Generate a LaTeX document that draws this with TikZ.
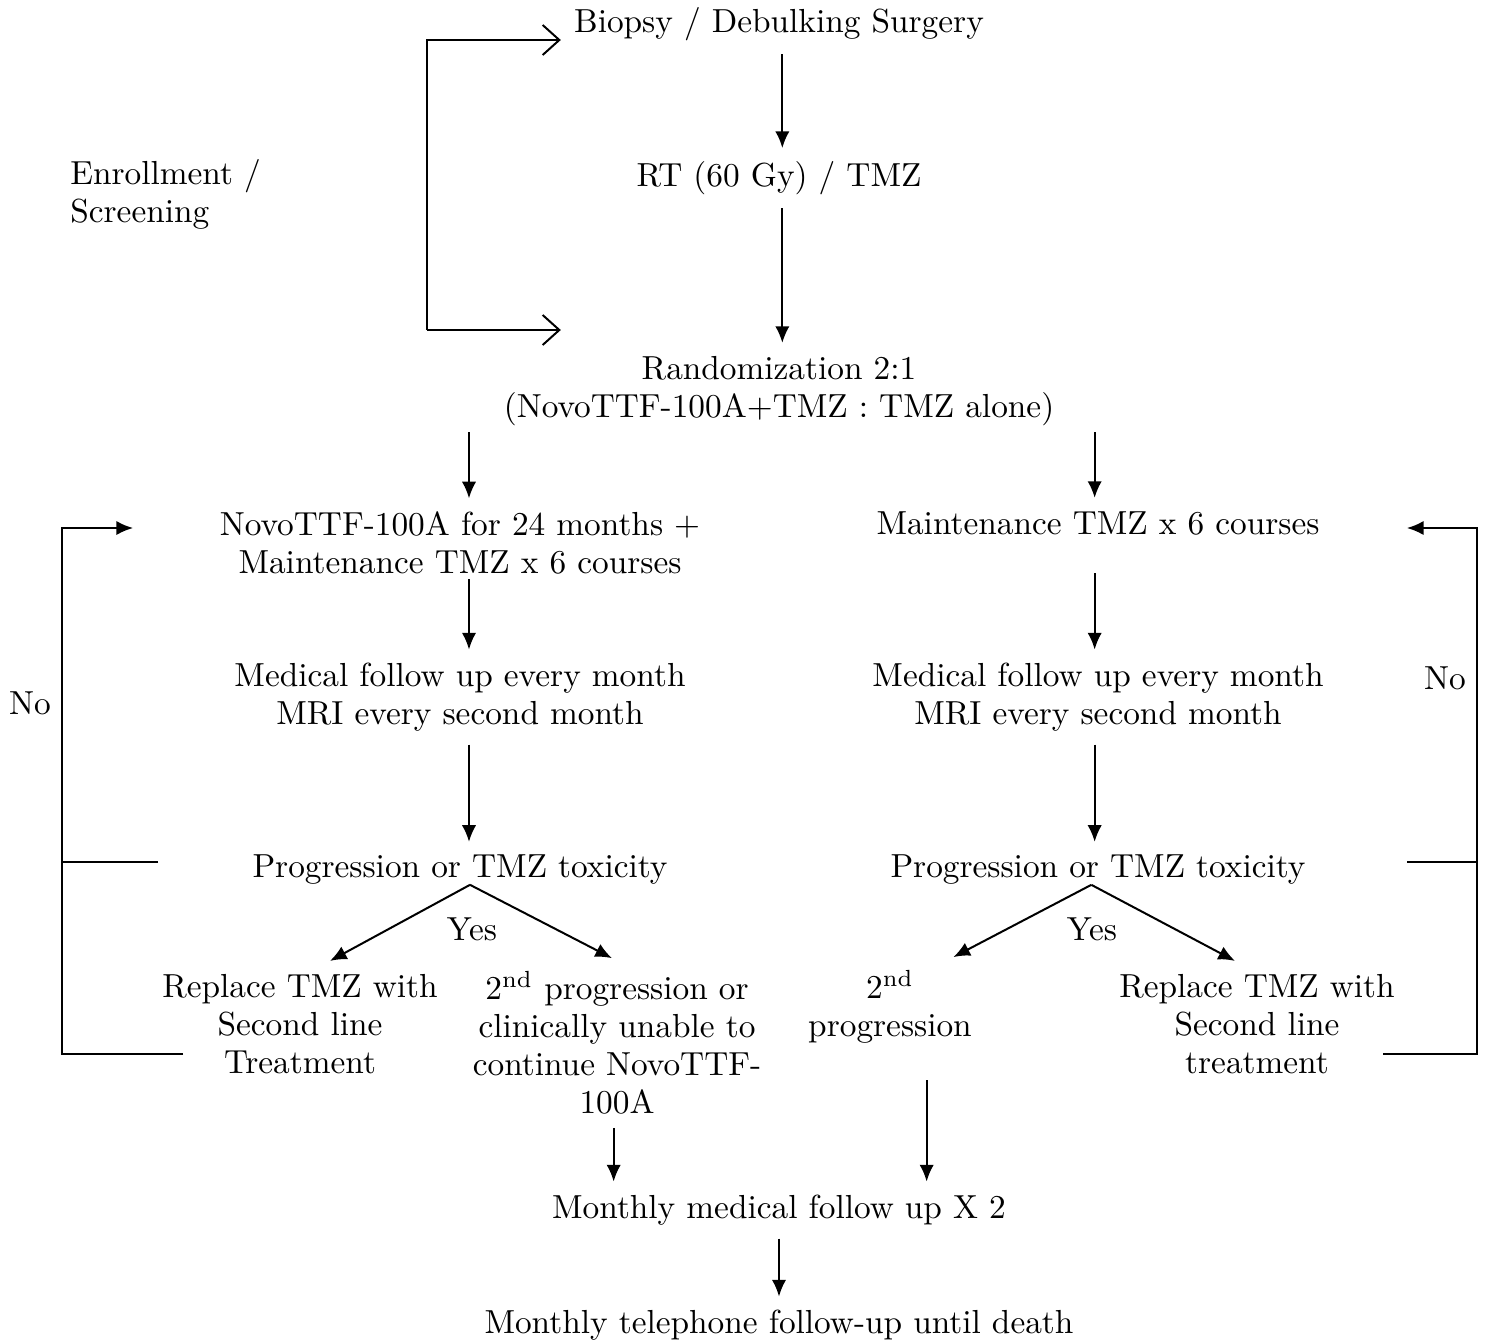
\documentclass[tikz,border=0pt]{standalone}
\usepackage{tikz}
\usetikzlibrary{arrows.meta,positioning}

\begin{document}
\begin{tikzpicture}[x=0.3pt,y=-0.3pt,
    every node/.style={align=center,inner sep=0pt,outer sep=4pt,font=\fontsize{10}{11.4}\selectfont},
    flow/.style={-{Latex[length=5pt,width=4.3pt]},line width=0.6pt},
    enter/.style={-{Straight Barb[length=5pt,width=9pt]},line width=0.6pt},
    back/.style={line width=0.6pt}]
  \useasboundingbox (0,0) rectangle (1486,1342);

  % nodes
  \node (biopsy) at (779,24) {Biopsy / Debulking Surgery};
  \node (rt) at (779,178) {RT (60 Gy) / TMZ};
  \node[anchor=west,align=left] (enroll) at (57,194) {Enrollment /\\Screening};
  \node (rand) at (779,391) {Randomization 2:1\\(NovoTTF-100A+TMZ : TMZ alone)};

  \node (armA) at (460,543) {NovoTTF-100A for 24 months +\\Maintenance TMZ x 6 courses};
  \node (armB) at (1098,523) {Maintenance TMZ x 6 courses};
  \node (medA) at (460,697) {Medical follow up every month\\MRI every second month};
  \node (medB) at (1098,697) {Medical follow up every month\\MRI every second month};
  \node (progA) at (460,870) {Progression or TMZ toxicity};
  \node (progB) at (1098,870) {Progression or TMZ toxicity};
  \node (yesA) at (472,929) {Yes};
  \node (yesB) at (1092,929) {Yes};
  \node (replA) at (300,1024) {Replace TMZ with\\Second line\\Treatment};
  \node (secA) at (617,1043) {2\textsuperscript{nd} progression or\\clinically unable to\\continue NovoTTF-\\100A};
  \node (secB) at (890,1007) {2\textsuperscript{nd}\\progression};
  \node (replB) at (1257,1024) {Replace TMZ with\\Second line\\treatment};
  \node (mon) at (779,1210) {Monthly medical follow up X 2};
  \node (tel) at (779,1325) {Monthly telephone follow-up until death};
  \node (noA) at (30,703) {No};
  \node (noB) at (1445,678) {No};

  % corners of the brackets
  \coordinate (eTop) at (427,40);
  \coordinate (eBot) at (427,330);
  \coordinate (cA1) at (62,528);
  \coordinate (cA2) at (62,1054);
  \coordinate (tA) at (158,862);
  \coordinate (eA) at (133,528);
  \coordinate (bA) at (183,1054);
  \coordinate (cB1) at (1477,528);
  \coordinate (cB2) at (1477,1054);
  \coordinate (tB) at (1407,862);
  \coordinate (eB) at (1407,528);
  \coordinate (bB) at (1383,1054);

  % enrollment
  \draw[enter] (eBot) -- (eTop) -- (eTop -| biopsy.west);
  \draw[enter] (eBot) -- (eBot -| biopsy.west);

  % main flow
  \draw[flow] ([xshift=1pt]biopsy.south) -- ([xshift=1pt]rt.north);
  \draw[flow] ([xshift=1pt]rt.south) -- ([xshift=1pt]rand.north);
  \draw[flow] ([xshift=2.7pt,yshift=2pt]armA.north |- rand.south) -- ([xshift=2.7pt]armA.north);
  \draw[flow] ([xshift=-1pt,yshift=2pt]armB.north |- rand.south) -- ([xshift=-1pt]armB.north);
  \draw[flow] ([xshift=2.7pt,yshift=2.5pt]armA.south) -- ([xshift=2.7pt]medA.north);
  \draw[flow] ([xshift=-1pt,yshift=-7.5pt]armB.south) -- ([xshift=-1pt]medB.north);
  \draw[flow] ([xshift=2.7pt]medA.south) -- ([xshift=2.7pt]progA.north);
  \draw[flow] ([xshift=-1pt]medB.south) -- ([xshift=-1pt]progB.north);

  % forks
  \draw[flow] ([xshift=3pt,yshift=4pt]progA.south) -- ([xshift=9pt]replA.north);
  \draw[flow] ([xshift=3pt,yshift=4pt]progA.south) -- ([xshift=-1.5pt]secA.north);
  \draw[flow] ([xshift=-2pt,yshift=4pt]progB.south) -- ([xshift=19pt]secB.north);
  \draw[flow] ([xshift=-2pt,yshift=4pt]progB.south) -- ([xshift=-6.6pt]replB.north);

  % back loops
  \draw[flow] (bA) -- (cA2) -- (cA1) -- (eA);
  \draw[back] (tA) -- (tA -| cA1);
  \draw[flow] (bB) -- (cB2) -- (cB1) -- (eB);
  \draw[back] (tB) -- (tB -| cB1);

  % end
  \draw[flow] ([xshift=-1pt]secA.south) -- ([xshift=-1pt]secA.south |- mon.north);
  \draw[flow] ([xshift=11pt,yshift=-7pt]secB.south) -- ([xshift=11pt]secB.south |- mon.north);
  \draw[flow] (mon) -- (tel);
\end{tikzpicture}
\end{document}
